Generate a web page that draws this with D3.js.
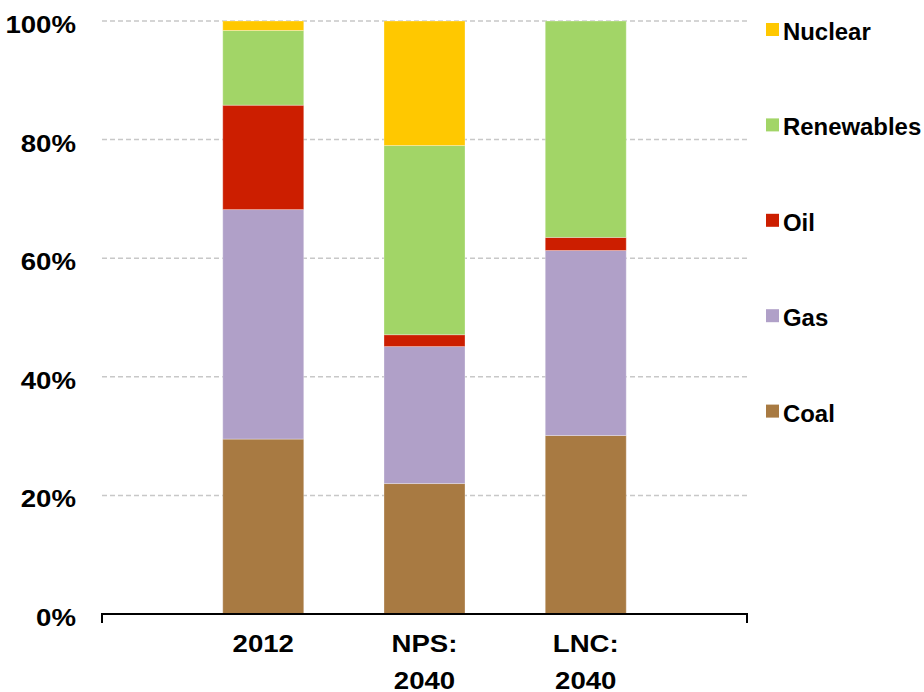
<!DOCTYPE html>
<html>
<head>
<meta charset="utf-8">
<script src="https://cdn.jsdelivr.net/npm/d3@7"></script>
<style>
  body { margin: 0; background: #fff; }
  text { font-family: "Liberation Sans", Arial, sans-serif; font-weight: bold; fill: #000; }
</style>
</head>
<body>
<svg width="924" height="692"></svg>
<script>
// data (percent of total)
var scenarios = ["2012", "NPS: 2040", "LNC: 2040"];
var fuels = ["Coal", "Gas", "Oil", "Renewables", "Nuclear"];
var coal = [29.5, 22.0, 30.1];
var gas = [38.7, 23.1, 31.2];
var oil = [17.6, 2.0, 2.2];
var renewables = [12.6, 31.9, 36.5];
var nuclear = [1.6, 21.0, 0];
var fuelColors = ["#a87a42", "#b0a0c8", "#cc1e00", "#a2d567", "#ffc800"];
var yTicks = [0, 20, 40, 60, 80, 100];

var series = [coal, gas, oil, renewables, nuclear];
var table = scenarios.map(function (s, i) {
  var row = { scenario: s };
  fuels.forEach(function (f, j) { row[f] = series[j][i]; });
  return row;
});

var svg = d3.select("svg");
var plotLeft = 102, plotRight = 747, plotTop = 21, plotBottom = 614;

var x = d3.scalePoint().domain(scenarios).range([plotLeft, plotRight]).padding(1);
var y = d3.scaleLinear().domain([0, 100]).range([plotBottom, plotTop]);
var color = d3.scaleOrdinal().domain(fuels).range(fuelColors);
var barW = 81;
var stretch = 1.15; // labels in the source are drawn a bit wide

// gridlines
svg.append("g")
  .selectAll("line")
  .data(yTicks.filter(function (d) { return d > 0; }))
  .enter().append("line")
  .attr("x1", plotLeft).attr("x2", plotRight + 1)
  .attr("y1", function (d) { return y(d); })
  .attr("y2", function (d) { return y(d); })
  .attr("stroke", "#c8c8c8")
  .attr("stroke-width", 1.5)
  .attr("stroke-dasharray", "5,3");

// y labels
svg.append("g")
  .selectAll("text")
  .data(yTicks)
  .enter().append("text")
  .attr("transform", function (d) { return "translate(76," + (y(d) + 12) + ") scale(" + stretch + ",1)"; })
  .attr("text-anchor", "end")
  .style("font-size", "24px")
  .text(function (d) { return d + "%"; });

// stacked bars
var stack = d3.stack().keys(fuels)(table);
svg.append("g")
  .selectAll("g")
  .data(stack)
  .enter().append("g")
  .attr("fill", function (d) { return color(d.key); })
  .selectAll("rect")
  .data(function (d) { return d; })
  .enter().append("rect")
  .attr("x", function (d) { return x(d.data.scenario) - barW / 2; })
  .attr("width", barW)
  .attr("y", function (d) { return y(d[1]); })
  .attr("height", function (d) { return y(d[0]) - y(d[1]); })
  .attr("stroke", "#ffffff")
  .attr("stroke-opacity", 0.3)
  .attr("stroke-width", 1);

// x axis line with end ticks
svg.append("path")
  .attr("d", "M" + plotLeft + "," + (plotBottom + 9) + "V" + plotBottom + "H" + plotRight + "V" + (plotBottom + 9))
  .attr("fill", "none")
  .attr("stroke", "#000")
  .attr("stroke-width", 2);

// category labels (two lines where needed)
var xl = svg.append("g")
  .selectAll("text")
  .data(scenarios)
  .enter().append("text")
  .attr("text-anchor", "middle")
  .attr("transform", function (d) { return "translate(" + x(d) + ",652) scale(" + stretch + ",1)"; })
  .style("font-size", "24px");
xl.each(function (d) {
  var t = d3.select(this);
  d.split(" ").forEach(function (p, i) {
    t.append("tspan")
      .attr("x", 0)
      .attr("y", i * 37)
      .text(p);
  });
});

// legend, top to bottom
var legendItems = fuels.slice().reverse();
var leg = svg.append("g")
  .selectAll("g")
  .data(legendItems)
  .enter().append("g")
  .attr("transform", function (d, i) { return "translate(766," + (29.5 + i * 95.4) + ")"; });
leg.append("rect")
  .attr("x", 0).attr("y", -6.5)
  .attr("width", 13).attr("height", 13)
  .attr("fill", function (d) { return color(d); });
leg.append("text")
  .attr("transform", "translate(17,10.5) scale(1.04,1)")
  .style("font-size", "23px")
  .text(function (d) { return d; });
</script>
</body>
</html>
